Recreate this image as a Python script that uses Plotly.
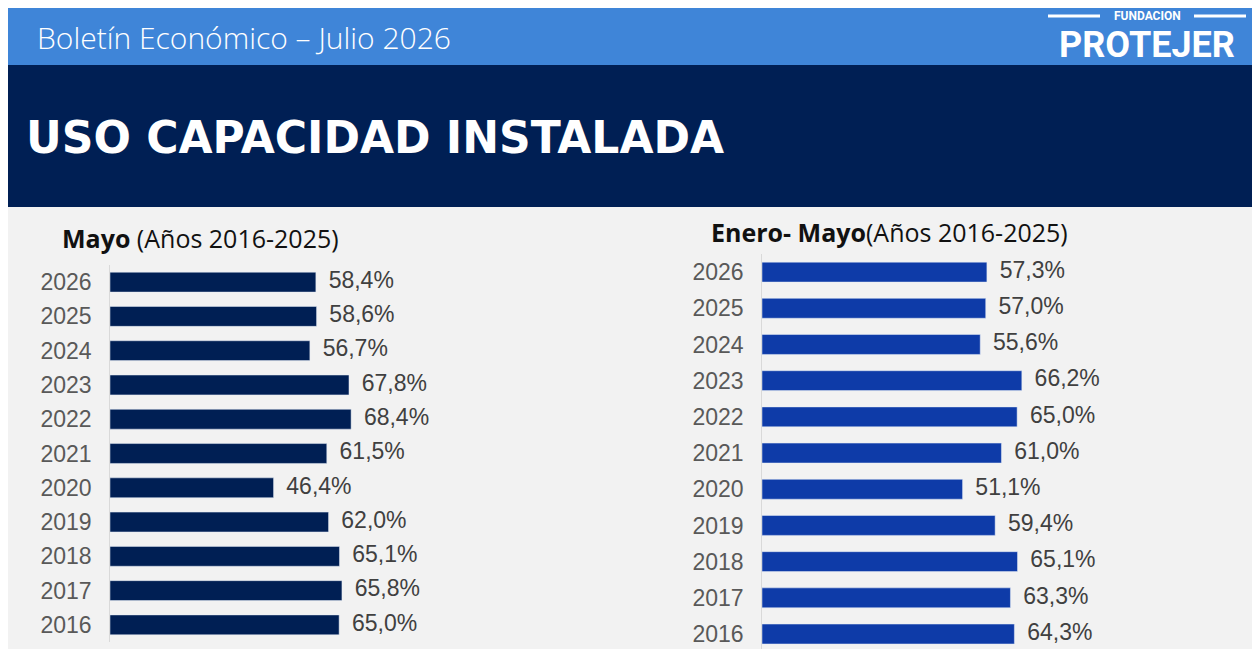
import plotly.graph_objects as go

years = ["2016", "2017", "2018", "2019", "2020", "2021", "2022", "2023", "2024", "2025", "2026"]
mayo = [65.0, 65.8, 65.1, 62.0, 46.4, 61.5, 68.4, 67.8, 56.7, 58.6, 58.4]
enero_mayo = [64.3, 63.3, 65.1, 59.4, 51.1, 61.0, 65.0, 66.2, 55.6, 57.0, 57.3]

# the page puts the plot 8px in from the top-left corner
OFF = 8
W, H = 1260 - OFF, 649 - OFF


def px(x):
    return (x - OFF) / W


def py(y):
    return 1 - (y - OFF) / H


def pct(v):
    return f"{v:.1f}%".replace(".", ",")


label_font = dict(size=23, color="#404040", family="Liberation Sans")

fig = go.Figure()
for vals, color, width, xa, ya in [(mayo, "#001f54", 0.58, "x", "y"),
                                   (enero_mayo, "#0e3ba8", 0.55, "x2", "y2")]:
    fig.add_trace(go.Bar(
        y=years, x=vals, orientation="h", xaxis=xa, yaxis=ya,
        marker=dict(color=color), width=width, hoverinfo="skip",
    ))
    fig.add_trace(go.Scatter(
        y=years, x=vals, mode="text", xaxis=xa, yaxis=ya,
        text=["  " + pct(v) for v in vals], textposition="middle right",
        textfont=label_font, cliponaxis=False, hoverinfo="skip",
    ))

ax_common = dict(showgrid=False, zeroline=False, showticklabels=False, fixedrange=True)
y_common = dict(type="category", showgrid=False, ticks="", showline=True,
                linecolor="#d9d9d9", linewidth=1,
                tickfont=dict(size=23, color="#595959", family="Liberation Sans"),
                ticksuffix="  ")

fig.update_layout(
    width=W, height=H, margin=dict(l=0, r=0, t=0, b=0),
    paper_bgcolor="#f2f2f2", plot_bgcolor="rgba(0,0,0,0)",
    showlegend=False,
    xaxis=dict(domain=[px(110), px(392)], range=[0, 80], **ax_common),
    yaxis=dict(domain=[py(642), py(265)], range=[-0.5, 10.5], **y_common),
    xaxis2=dict(domain=[px(762), px(1076)], range=[0, 80], anchor="y2", **ax_common),
    yaxis2=dict(domain=[0, py(254)], range=[-0.414, 10.5], anchor="x2", **y_common),
    shapes=[
        dict(type="rect", xref="paper", yref="paper", x0=0, x1=1, y0=py(65), y1=1,
             fillcolor="#3f85d8", line_width=0, layer="below"),
        dict(type="rect", xref="paper", yref="paper", x0=0, x1=1, y0=py(207), y1=py(65),
             fillcolor="#001f54", line_width=0, layer="below"),
        dict(type="line", xref="paper", yref="paper", x0=px(1048), x1=px(1100),
             y0=py(16), y1=py(16), line=dict(color="white", width=3)),
        dict(type="line", xref="paper", yref="paper", x0=px(1194), x1=px(1246),
             y0=py(16), y1=py(16), line=dict(color="white", width=3)),
    ],
    annotations=[
        dict(text="Boletín Económico – Julio 2026", xref="paper", yref="paper",
             x=px(35), y=py(38), xanchor="left", yanchor="middle", showarrow=False,
             font=dict(size=30, color="white", family="Open Sans", weight=300)),
        dict(text="<b>FUNDACION</b>", xref="paper", yref="paper",
             x=px(1147), y=py(16), xanchor="center", yanchor="middle", showarrow=False,
             font=dict(size=12, color="white", family="Roboto")),
        dict(text="<b>PROTEJER</b>", xref="paper", yref="paper",
             x=px(1147), y=py(45), xanchor="center", yanchor="middle", showarrow=False,
             font=dict(size=36, color="white", family="Roboto")),
        dict(text="<b>USO CAPACIDAD INSTALADA</b>", xref="paper", yref="paper",
             x=px(24), y=py(138), xanchor="left", yanchor="middle", showarrow=False,
             font=dict(size=44, color="white", family="DejaVu Sans")),
        dict(text="<b>Mayo</b> (Años 2016-2025)", xref="paper", yref="paper",
             x=px(60), y=py(238), xanchor="left", yanchor="middle", showarrow=False,
             font=dict(size=25, color="#111111", family="Open Sans")),
        dict(text="<b>Enero- Mayo</b>(Años 2016-2025)", xref="paper", yref="paper",
             x=px(709), y=py(232), xanchor="left", yanchor="middle", showarrow=False,
             font=dict(size=25, color="#111111", family="Open Sans")),
    ],
)

fig.write_html("out.html")
